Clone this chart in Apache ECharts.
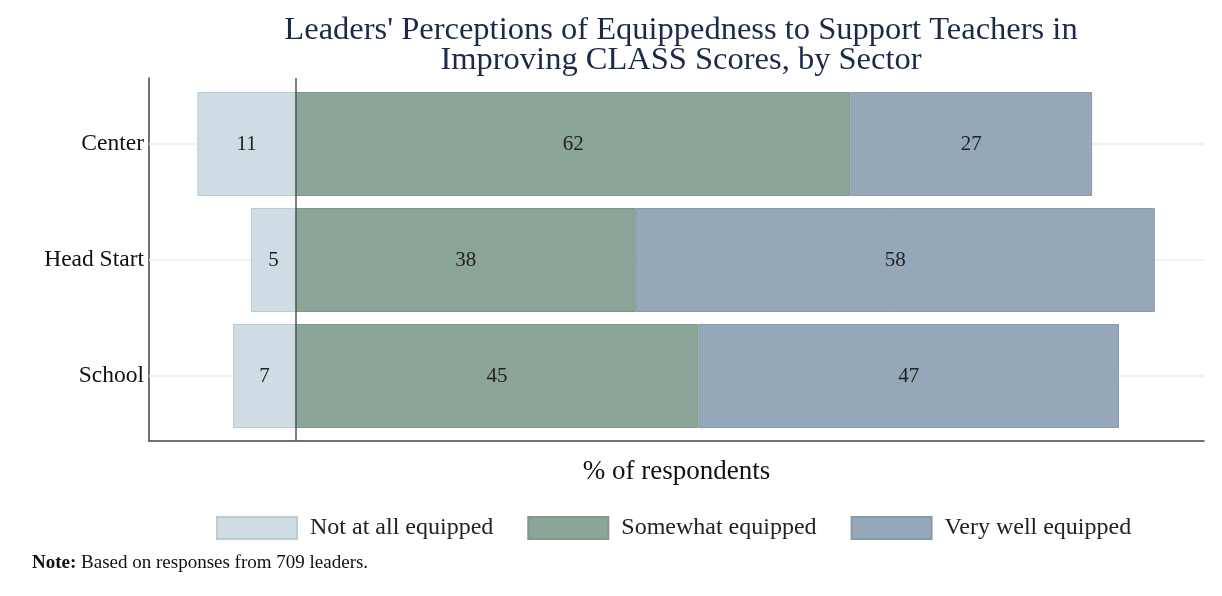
<!DOCTYPE html>
<html><head><meta charset="utf-8">
<script src="https://cdn.jsdelivr.net/npm/echarts@6/dist/echarts.min.js"></script>
<style>html,body{margin:0;padding:0;background:#fff}#c{width:1222px;height:596px}</style>
</head><body><div id="c"></div>
<script>
const categories = ['Center', 'Head Start', 'School'];
const notAtAll = [11, 5, 7];
const somewhat = [62, 38, 45];
const veryWell = [27, 58, 47];
const seriesNames = ['Not at all equipped', 'Somewhat equipped', 'Very well equipped'];
const xMin = -16.4, xMax = 101.5;

const FONT = "'Liberation Serif', 'DejaVu Serif', serif";
const colors = ['#d0dce4', '#8ba598', '#95a8ba'];
const borders = ['#bccad5', '#7e998c', '#8799ac'];

const chart = echarts.init(document.getElementById('c'));
const lbl = {show: true, position: 'inside', color: '#222', fontFamily: FONT, fontSize: 21,
  formatter: p => Math.abs(p.value)};
chart.setOption({
  animation: false,
  title: {
    text: "Leaders' Perceptions of Equippedness to Support Teachers in\nImproving CLASS Scores, by Sector",
    left: 676, textAlign: 'center', top: 10,
    textStyle: {fontFamily: FONT, fontSize: 32.5, fontWeight: 'normal', color: '#1c2a4a', lineHeight: 30}
  },
  legend: {
    data: seriesNames, top: 511, left: 211, itemWidth: 80, itemHeight: 22, itemGap: 34,
    textStyle: {fontFamily: FONT, fontSize: 24, color: '#222', padding: [0, 0, 0, 8]},
    icon: 'rect'
  },
  graphic: [{
    type: 'text', left: 32, top: 554,
    style: {
      text: '{b|Note:} Based on responses from 709 leaders.',
      rich: {b: {fontWeight: 'bold', fontFamily: FONT, fontSize: 19, fill: '#111'}},
      fontFamily: FONT, fontSize: 19, fill: '#111'
    }
  }],
  grid: [
    {left: 149, right: 18, top: 86, height: 348},
    {left: 149, right: 18, top: 78, height: 363}
  ],
  xAxis: [
    {gridIndex: 0, type: 'value', min: xMin, max: xMax, show: true,
      axisLine: {show: false}, axisTick: {show: false}, axisLabel: {show: false}, splitLine: {show: false}},
    {gridIndex: 1, type: 'value', min: xMin, max: xMax,
      axisLine: {show: true, onZero: false, lineStyle: {color: '#444', width: 1.5}},
      axisTick: {show: false}, axisLabel: {show: false}, splitLine: {show: false},
      name: '% of respondents', nameLocation: 'middle', nameGap: 17,
      nameTextStyle: {fontFamily: FONT, fontSize: 27, color: '#111'}}
  ],
  yAxis: [
    {gridIndex: 0, type: 'category', data: categories, inverse: true,
      axisLine: {show: false}, axisTick: {show: false},
      axisLabel: {fontFamily: FONT, fontSize: 23.5, color: '#111', margin: 5},
      splitLine: {show: false}},
    {gridIndex: 1, type: 'value', min: 0, max: 1,
      axisLine: {show: true, onZero: false, lineStyle: {color: '#444', width: 1.5}},
      axisTick: {show: false}, axisLabel: {show: false}, splitLine: {show: false}}
  ],
  series: [
    {type: 'bar', name: seriesNames[0], stack: 'all', xAxisIndex: 0, yAxisIndex: 0,
      data: notAtAll.map(v => -v), barWidth: 104,
      itemStyle: {color: colors[0], borderColor: borders[0], borderWidth: 1}, label: lbl,
      markLine: {silent: true, symbol: 'none', label: {show: false}, z: 1,
        lineStyle: {color: '#e6eef2', type: 'solid', width: 1.5},
        data: categories.map(c => [{coord: [xMin, c]}, {coord: [xMax, c]}])},
      z: 3},
    {type: 'bar', name: seriesNames[1], stack: 'all', xAxisIndex: 0, yAxisIndex: 0,
      data: somewhat, barWidth: 104,
      itemStyle: {color: colors[1], borderColor: borders[1], borderWidth: 1}, label: lbl, z: 3},
    {type: 'bar', name: seriesNames[2], stack: 'all', xAxisIndex: 0, yAxisIndex: 0,
      data: veryWell, barWidth: 104,
      itemStyle: {color: colors[2], borderColor: borders[2], borderWidth: 1}, label: lbl, z: 3},
    {type: 'line', xAxisIndex: 1, yAxisIndex: 1, data: [], silent: true,
      markLine: {silent: true, symbol: 'none', label: {show: false},
        lineStyle: {color: '#555', type: 'solid', width: 1.5},
        data: [{xAxis: 0}]}, z: 5}
  ]
});
</script></body></html>
